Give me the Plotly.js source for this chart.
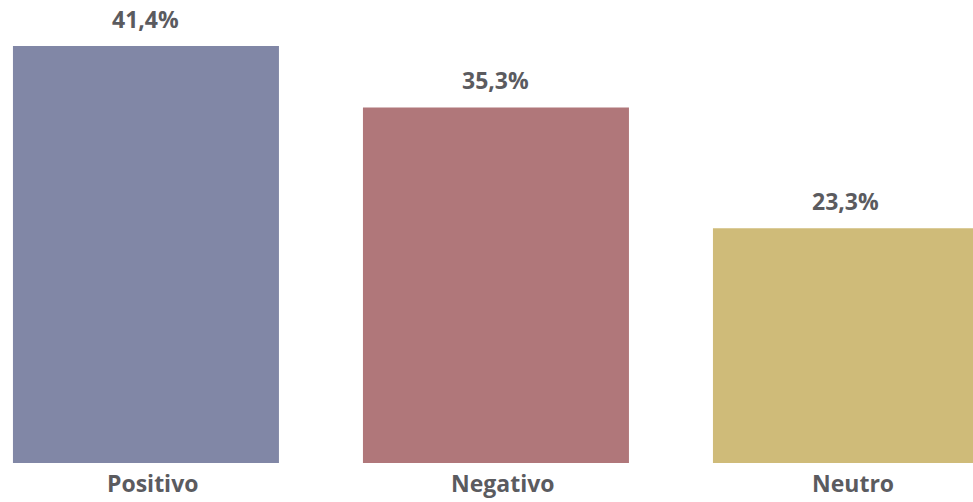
<!DOCTYPE html>
<html>
<head>
<meta charset="utf-8">
<script src="https://cdn.plot.ly/plotly-3.0.1.min.js"></script>
<style>
  html, body { margin: 0; padding: 0; background: #fff; }
  #chart { width: 973px; height: 502px; }
</style>
</head>
<body>
<div id="chart"></div>
<script>
// sentimento das menções
const categories = ["Positivo", "Negativo", "Neutro"];
const shares = [41.4, 35.3, 23.3];
const barColors = ["#8187a6", "#b0777a", "#cfbb79"];

const textColor = "#5b5b5f";
const font = { family: "Open Sans, sans-serif", size: 23, color: textColor };
const fmt = v => v.toFixed(1).replace(".", ",") + "%";

const trace = {
  type: "bar",
  x: [0, 1, 2],
  y: shares,
  width: 0.76,
  marker: { color: barColors },
  hoverinfo: "skip"
};

// rótulos de valor acima das barras
const valueLabels = shares.map((v, i) => ({
  x: i, y: v,
  xref: "x", yref: "y",
  text: "<b>" + fmt(v) + "</b>",
  showarrow: false,
  yanchor: "bottom",
  yshift: 9,
  font: font
}));

// nomes das categorias sob as barras (um pouco deslocados à direita, como no original)
const catLabels = categories.map((c, i) => ({
  x: i, y: 0,
  xref: "x", yref: "paper",
  text: "<b>" + c + "</b>",
  showarrow: false,
  yanchor: "top",
  xshift: 7,
  yshift: -2,
  font: font
}));

const layout = {
  width: 973,
  height: 502,
  margin: { l: 0, r: 0, t: 0, b: 39 },
  paper_bgcolor: "#fff",
  plot_bgcolor: "#fff",
  showlegend: false,
  xaxis: {
    range: [-0.417, 2.363],
    showticklabels: false,
    showgrid: false,
    zeroline: false,
    showline: false,
    ticks: "",
    fixedrange: true
  },
  yaxis: {
    range: [0, 45.97],
    visible: false,
    fixedrange: true
  },
  annotations: valueLabels.concat(catLabels)
};

Plotly.newPlot("chart", [trace], layout, { displayModeBar: false, staticPlot: true });
</script>
</body>
</html>
